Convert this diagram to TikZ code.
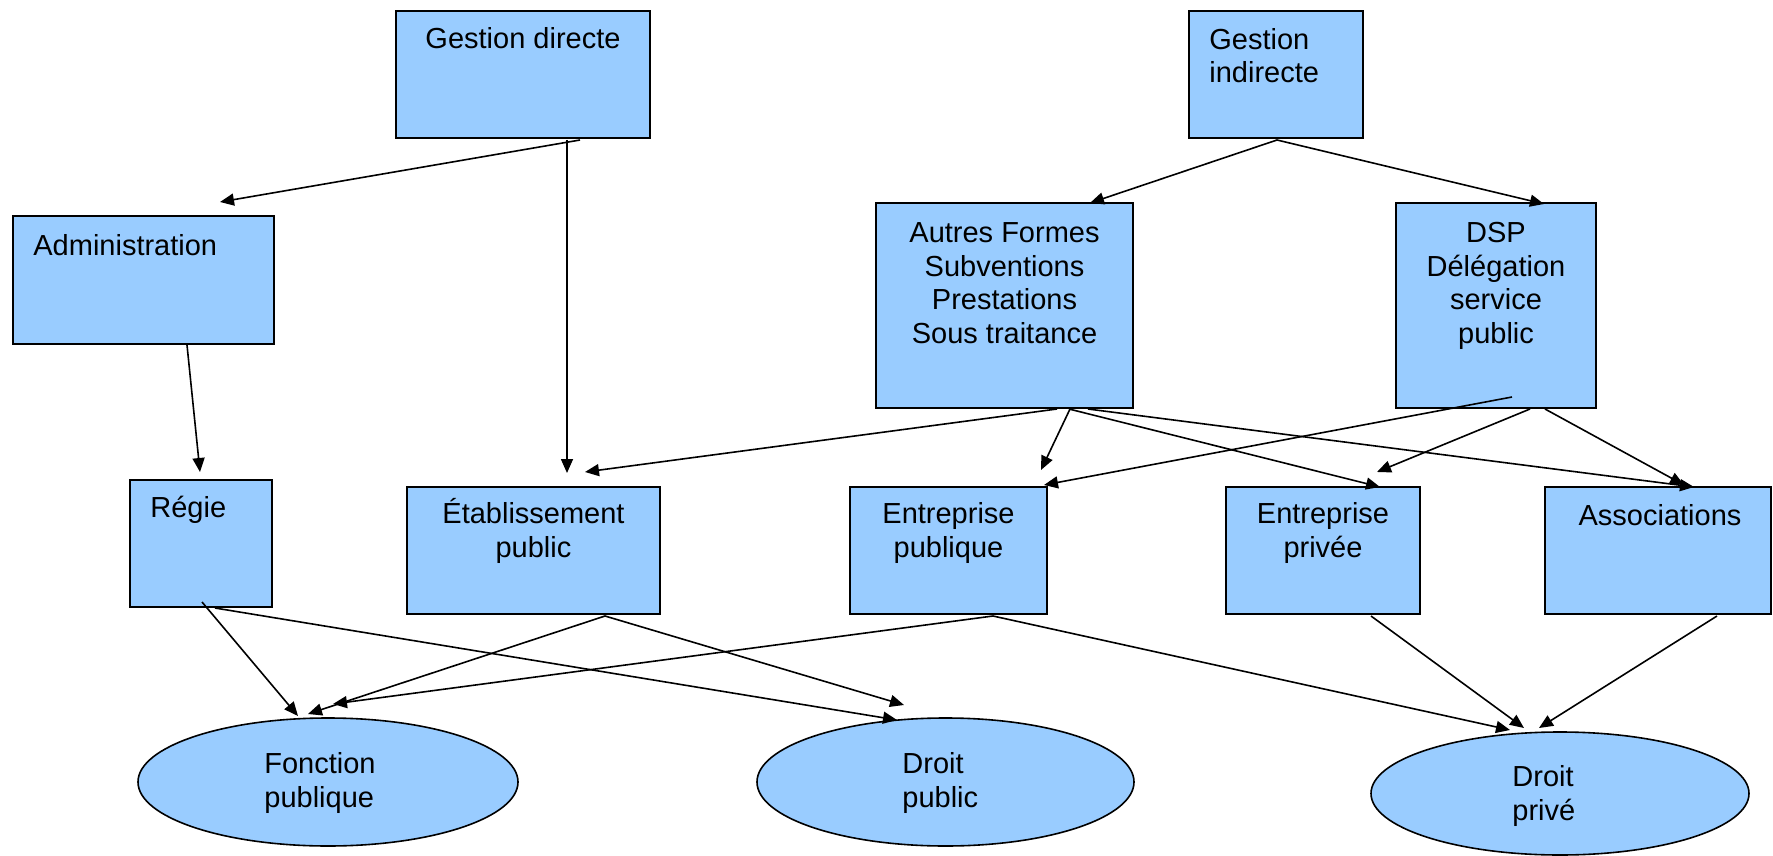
\documentclass[tikz,border=0pt]{standalone}
\usepackage{fontspec}
\setmainfont{Liberation Sans}
\usetikzlibrary{arrows.meta,calc,shapes.geometric}
\definecolor{boxblue}{HTML}{99CCFF}
\begin{document}
\begin{tikzpicture}[x=0.5pt,y=-0.5pt,
  box/.style={draw=black, line width=1pt, fill=boxblue, rectangle, inner sep=0pt, outer sep=0pt},
  oval/.style={draw=black, line width=0.8pt, fill=boxblue, ellipse, inner sep=0pt, outer sep=0pt},
  txt/.style={font=\fontsize{14.5}{16.75}\selectfont, inner sep=0pt, anchor=base},
  arr/.style={line width=0.8pt, -{Triangle[length=7pt,width=6pt]}}]
\useasboundingbox[fill=white] (0,0) rectangle (1773,856);
% boxes
\node[box, minimum width=127pt, minimum height=63.5pt] (gd) at (523,74.5) {};
\node[box, minimum width=87pt, minimum height=63.5pt] (gi) at (1276,74.5) {};
\node[box, minimum width=130.5pt, minimum height=64pt] (adm) at (143.5,280) {};
\node[box, minimum width=128.5pt, minimum height=102.5pt] (af) at (1004.5,305.5) {};
\node[box, minimum width=100pt, minimum height=102.5pt] (dsp) at (1496,305.5) {};
\node[box, minimum width=71pt, minimum height=63.5pt] (reg) at (201,543.5) {};
\node[box, minimum width=126.5pt, minimum height=63.5pt] (etab) at (533.5,550.5) {};
\node[box, minimum width=98.5pt, minimum height=63.5pt] (ep) at (948.5,550.5) {};
\node[box, minimum width=97pt, minimum height=63.5pt] (epr) at (1323,550.5) {};
\node[box, minimum width=113pt, minimum height=63.5pt] (asso) at (1658,550.5) {};
\node[oval, minimum width=190pt, minimum height=64pt] (fp) at (328,782) {};
\node[oval, minimum width=188.5pt, minimum height=64pt] (dpub) at (945.5,782) {};
\node[oval, minimum width=189pt, minimum height=61.5pt] (dpri) at (1560,793.5) {};
% texts (multi-line nodes: base = last line's baseline)
\node[txt] (gdt) at (523,49) {Gestion directe};
\node[txt, anchor=base west] (admt) at (33,255) {Administration};
\node[txt, anchor=base west, align=left] (git) at (1209,83) {Gestion\\indirecte};
\node[txt, align=center] (aft) at (1004.5,343) {Autres Formes\\Subventions\\Prestations\\Sous traitance};
\node[txt, align=center] (dspt) at (1496,343) {DSP\\Délégation\\service\\public};
\node[txt, anchor=base west] (regt) at (150,517) {Régie};
\node[txt, align=center] (etabt) at (533.5,557) {Établissement\\public};
\node[txt, align=center] (ept) at (948.5,557) {Entreprise\\publique};
\node[txt, align=center] (eprt) at (1323,557) {Entreprise\\privée};
\node[txt] (assot) at (1660,525) {Associations};
\node[txt, align=left] (fpt) at (320,807) {Fonction\\publique};
\node[txt, anchor=base west, align=left] (dpubt) at (902,807) {Droit\\public};
\node[txt, anchor=base west, align=left] (dprit) at (1512,820) {Droit\\privé};
% connectors
\draw[arr] ($(gd.south west)+(184,2)$) -- ($(adm.north west)+(207,-14)$);
\draw[arr] ($(gd.south west)+(171,2)$) -- ($(etab.north west)+(160,-14)$);
\draw[arr] ($(adm.south west)+(174,1)$) -- ($(reg.north west)+(70,-8)$);
\draw[arr] ($(gi.south west)+(88,2)$) -- ($(af.north west)+(214,0)$);
\draw[arr] ($(gi.south west)+(88,2)$) -- ($(dsp.north west)+(148,1)$);
\draw[arr] ($(af.south west)+(181,1)$) -- ($(etab.north west)+(178,-15)$);
\draw[arr] ($(af.south west)+(194,1)$) -- ($(ep.north west)+(191,-17)$);
\draw[arr] ($(af.south west)+(193,1)$) -- ($(epr.north west)+(154,0)$);
\draw[arr] ($(af.south west)+(212,1)$) -- ($(asso.north west)+(149,0)$);
\draw[arr] ($(dsp.south west)+(116,-11)$) -- ($(ep.north east)+(-3,-2)$);
\draw[arr] ($(dsp.south west)+(134,1)$) -- ($(epr.north west)+(151,-15)$);
\draw[arr] ($(dsp.south west)+(149,1)$) -- ($(asso.north west)+(139,-2)$);
\draw[arr] ($(reg.south west)+(72,-5)$) -- ($(fp.center)+(-30,-66)$);
\draw[arr] ($(reg.south west)+(85,1)$) -- ($(dpub.center)+(-48.5,-62)$);
\draw[arr] ($(etab.south west)+(198,2)$) -- ($(fp.center)+(-20,-68)$);
\draw[arr] ($(etab.south west)+(198,2)$) -- ($(dpub.center)+(-41.5,-77)$);
\draw[arr] ($(ep.south west)+(143,2)$) -- ($(fp.center)+(5,-78)$);
\draw[arr] ($(ep.south west)+(143,2)$) -- ($(dpri.center)+(-50,-63.5)$);
\draw[arr] ($(epr.south west)+(145,2)$) -- ($(dpri.center)+(-36,-65.5)$);
\draw[arr] ($(asso.south west)+(172,2)$) -- ($(dpri.center)+(-21,-65.5)$);
\end{tikzpicture}
\end{document}
